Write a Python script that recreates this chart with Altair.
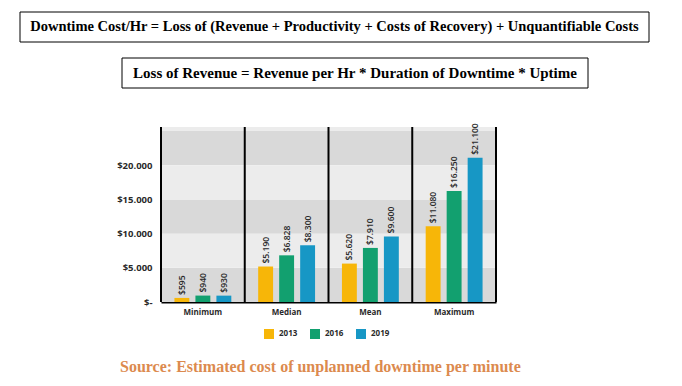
import altair as alt
import pandas as pd

categories = ["Minimum", "Median", "Mean", "Maximum"]
years = ["2013", "2016", "2019"]
values_2013 = [595, 5190, 5620, 11080]
values_2016 = [940, 6828, 7910, 16250]
values_2019 = [930, 8300, 9600, 21100]
colors = ["#f7b608", "#12a06f", "#1797c5"]

dark_band_start = [0, 10000, 20000]
dark_band_end = [5000, 15000, 25000]
light_band_start = [5000, 15000, 25000]
light_band_end = [10000, 20000, 25600]

title_1 = "Downtime Cost/Hr = Loss of (Revenue + Productivity + Costs of Recovery) + Unquantifiable Costs"
title_2 = "Loss of Revenue = Revenue per Hr * Duration of Downtime * Uptime"
source = "Source: Estimated cost of unplanned downtime per minute"

rows = []
for series, year in zip([values_2013, values_2016, values_2019], years):
    for cat, v in zip(categories, series):
        rows.append({"cat": cat, "year": year, "value": v,
                     "label": "$" + f"{v:,}".replace(",", ".")})
df = pd.DataFrame(rows)

x_scale = alt.Scale(paddingInner=0, paddingOuter=0)
y_scale = alt.Scale(domain=[0, 25600], nice=False)
off_scale = alt.Scale(paddingInner=0.29, paddingOuter=0.64)

sans = "Open Sans"

dark = alt.Chart(pd.DataFrame({"a": dark_band_start, "b": dark_band_end})).mark_rect(
    color="#d9d9d9").encode(
    x=alt.value(0), x2=alt.value("width"),
    y=alt.Y("a:Q", scale=y_scale,
            axis=alt.Axis(values=[0, 5000, 10000, 15000, 20000], title=None, domain=False,
                          ticks=False, grid=False, labelFont=sans, labelFontSize=9.5,
                          labelFontWeight="bold", labelColor="#2a2a2a", labelPadding=9,
                          labelExpr="datum.value == 0 ? '$-' : '$' + replace(format(datum.value, ','), ',', '.')")),
    y2="b:Q")

light = alt.Chart(pd.DataFrame({"a": light_band_start, "b": light_band_end})).mark_rect(
    color="#ececec").encode(
    x=alt.value(0), x2=alt.value("width"),
    y=alt.Y("a:Q", scale=y_scale), y2="b:Q")

x_axis = alt.Axis(title=None, ticks=False, domainColor="black", domainWidth=2,
                  labelFont=sans, labelFontSize=8, labelFontWeight="bold",
                  labelColor="#2a2a2a", labelPadding=6, labelAngle=0)

bars = alt.Chart(df).mark_bar().encode(
    x=alt.X("cat:N", sort=categories, scale=x_scale, axis=x_axis),
    xOffset=alt.XOffset("year:N", sort=years, scale=off_scale),
    y=alt.Y("value:Q", scale=y_scale),
    color=alt.Color("year:N", sort=years, scale=alt.Scale(domain=years, range=colors),
                    legend=alt.Legend(title=None, orient="none", legendX=103, legendY=202,
                                      direction="horizontal", symbolType="square",
                                      symbolSize=100, symbolStrokeWidth=0,
                                      labelFont=sans, labelFontSize=8, labelFontWeight="bold",
                                      labelColor="#2a2a2a", columnPadding=12, labelOffset=5)))

labels = alt.Chart(df).mark_text(angle=270, align="left", baseline="middle", dx=3,
                                 font=sans, fontSize=8.5, fontWeight=600, color="#2a2a2a").encode(
    x=alt.X("cat:N", sort=categories, scale=x_scale, axis=x_axis),
    xOffset=alt.XOffset("year:N", sort=years, scale=off_scale),
    y=alt.Y("value:Q", scale=y_scale),
    text="label:N")

seps = alt.Chart(pd.DataFrame({"cat": categories})).mark_rule(color="black", strokeWidth=2).encode(
    x=alt.X("cat:N", sort=categories, scale=x_scale, axis=x_axis, bandPosition=0))
last_sep = alt.Chart(pd.DataFrame({"cat": categories[-1:]})).mark_rule(color="black", strokeWidth=2).encode(
    x=alt.X("cat:N", sort=categories, scale=x_scale, axis=x_axis, bandPosition=1))

ann = pd.DataFrame({"t": [0]})
box1 = alt.Chart(ann).mark_rect(fill="white", stroke="black", strokeWidth=1).encode(
    x=alt.value(-141), x2=alt.value(488), y=alt.value(-115), y2=alt.value(-85))
box2 = alt.Chart(ann).mark_rect(fill="white", stroke="black", strokeWidth=1).encode(
    x=alt.value(-39), x2=alt.value(427), y=alt.value(-69), y2=alt.value(-39))
t1 = alt.Chart(pd.DataFrame({"t": [title_1]})).mark_text(
    font="Liberation Serif", fontWeight="bold", fontSize=14.5, color="black",
    align="center", baseline="middle").encode(
    x=alt.value(173.5), y=alt.value(-100), text="t:N")
t2 = alt.Chart(pd.DataFrame({"t": [title_2]})).mark_text(
    font="Liberation Serif", fontWeight="bold", fontSize=15, color="black",
    align="center", baseline="middle").encode(
    x=alt.value(194), y=alt.value(-54), text="t:N")
t3 = alt.Chart(pd.DataFrame({"t": [source]})).mark_text(
    font="Liberation Serif", fontWeight="bold", fontSize=16, color="#dc8a4e",
    align="left", baseline="middle").encode(
    x=alt.value(-41), y=alt.value(240), text="t:N")

chart = alt.layer(dark, light, bars, labels, seps, last_sep, box1, box2, t1, t2, t3).properties(
    width=335, height=175,
    padding={"left": 153, "top": 119, "right": 178, "bottom": 76},
    autosize=alt.AutoSizeParams(type="none"),
).configure_view(stroke=None).configure(background="white")

chart.save("out.html", embed_options={"renderer": "svg", "actions": False})
